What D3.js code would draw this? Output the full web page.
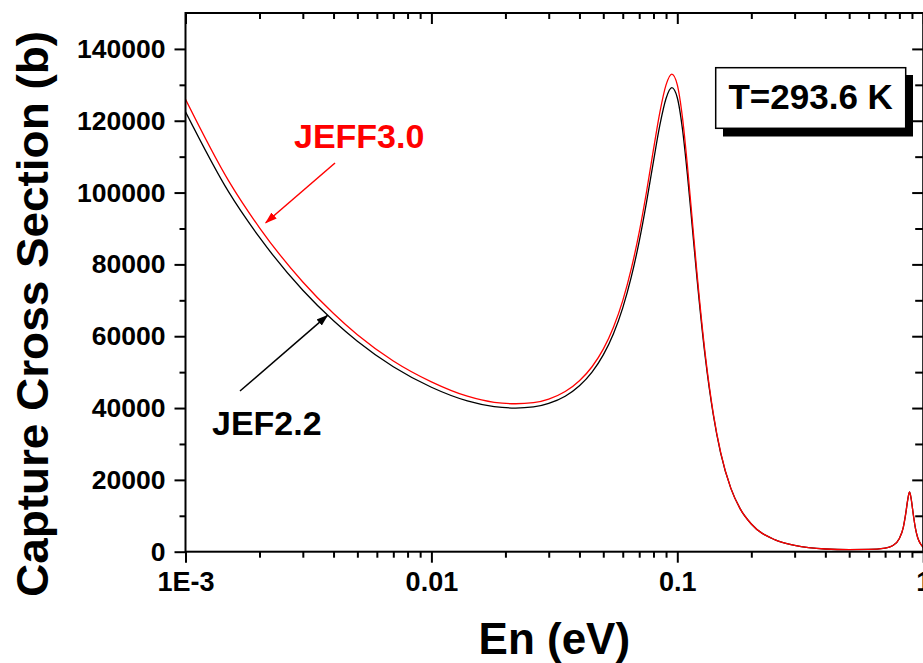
<!DOCTYPE html>
<html>
<head>
<meta charset="utf-8">
<script src="https://cdn.jsdelivr.net/npm/d3@7"></script>
<style>
  html, body { margin: 0; padding: 0; background: #fff; }
  svg { display: block; }
  text { font-family: "Liberation Sans", Arial, sans-serif; font-weight: bold; }
</style>
</head>
<body>
<svg id="chart" width="923" height="663"></svg>
<script>
// Neutron energies (eV) at which the capture cross sections are tabulated
const energies = [
  0.001, 0.0015, 0.002, 0.003, 0.004, 0.005, 0.007, 0.01, 0.014, 0.018,
  0.022, 0.026, 0.03, 0.035, 0.04, 0.045, 0.05, 0.055, 0.06, 0.065,
  0.07, 0.075, 0.08, 0.085, 0.09, 0.095, 0.1, 0.105, 0.11, 0.115,
  0.12, 0.13, 0.14, 0.15, 0.165, 0.18, 0.2, 0.25, 0.3, 0.4,
  0.5, 0.6, 0.7, 0.75, 0.8, 0.83, 0.85, 0.865, 0.88, 0.895,
  0.91, 0.93, 0.95, 0.975, 1.0
];

// JEF2.2 capture cross section (barns)
const jef22 = [
  122500, 100100, 87500, 72800, 64300, 58600, 51500, 45800, 42000, 40400,
  40000, 40300, 41300, 43300, 46200, 50000, 54800, 60700, 67900, 76500,
  86400, 97400, 108700, 118900, 126200, 129200, 126400, 117600, 104800, 90600,
  76800, 54000, 38200, 27500, 17700, 12000, 7700, 3300, 1750, 750,
  600, 620, 980, 1650, 3700, 6800, 10800, 14450, 16650, 14400,
  10700, 6500, 3900, 2200, 1200
];

// JEFF3.0 capture cross section (barns)
const jeff30 = [
  126000, 103200, 90200, 75100, 66300, 60400, 53100, 47300, 43300, 41600,
  41200, 41500, 42500, 44600, 47600, 51500, 56400, 62500, 69900, 78800,
  89000, 100300, 112000, 122500, 130000, 133000, 130000, 120800, 107300, 92500,
  78200, 54800, 38600, 27700, 17700, 12000, 7700, 3300, 1750, 750,
  600, 620, 980, 1650, 3700, 6800, 10800, 14450, 16650, 14400,
  10700, 6500, 3900, 2200, 1200
];

// Axis ticks
const xMajor = [0.001, 0.01, 0.1, 1];
const xMajorLabels = ["1E-3", "0.01", "0.1", "1"];
const yMajor = [0, 20000, 40000, 60000, 80000, 100000, 120000, 140000];
const yMinor = [10000, 30000, 50000, 70000, 90000, 110000, 130000];

const svg = d3.select("#chart");

const x = d3.scaleLog().domain([0.001, 1]).range([185.5, 923.2]);
const y = d3.scaleLinear().domain([0, 150000]).range([551.7, 13]);

const [x0, x1] = x.range();
const [yB, yT] = y.range();

// minor decade ticks 2..9 for each decade
const xMinor = [];
xMajor.slice(0, -1).forEach(d => { for (let k = 2; k <= 9; k++) xMinor.push(d * k); });

// clip for the curves
svg.append("defs").append("clipPath").attr("id", "plotClip")
  .append("rect").attr("x", x0).attr("y", yT).attr("width", x1 - x0).attr("height", yB - yT);

// arrow markers
const defs = svg.select("defs");
[["arrowRed", "#ff0000"], ["arrowBlack", "#000"]].forEach(([id, c]) => {
  defs.append("marker").attr("id", id)
    .attr("viewBox", "0 0 12 10").attr("refX", 11).attr("refY", 5)
    .attr("markerWidth", 12).attr("markerHeight", 10)
    .attr("markerUnits", "userSpaceOnUse").attr("orient", "auto")
    .append("path").attr("d", "M0,1 L12,5 L0,9 Z").attr("fill", c);
});

// curves
const line = d3.line().x(d => x(d[0])).y(d => y(d[1])).curve(d3.curveMonotoneX);
const curves = svg.append("g").attr("clip-path", "url(#plotClip)");
curves.append("path").datum(energies.map((e, i) => [e, jef22[i]]))
  .attr("d", line).attr("fill", "none").attr("stroke", "#000").attr("stroke-width", 1.3);
curves.append("path").datum(energies.map((e, i) => [e, jeff30[i]]))
  .attr("d", line).attr("fill", "none").attr("stroke", "#ff0000").attr("stroke-width", 1.3);

// axes
function styleAxis(g) {
  g.select(".domain").remove();
  g.selectAll(".tick line").attr("stroke", "#000").attr("stroke-width", 2);
  g.selectAll(".tick text").attr("fill", "#000");
}

// bottom
svg.append("g").attr("transform", `translate(0,${yB})`)
  .call(d3.axisBottom(x).tickValues(xMinor).tickSize(6).tickFormat(""))
  .call(styleAxis);
const xb = svg.append("g").attr("transform", `translate(0,${yB})`)
  .call(d3.axisBottom(x).tickValues(xMajor).tickSize(11).tickPadding(9)
    .tickFormat((d, i) => xMajorLabels[i]))
  .call(styleAxis);
xb.selectAll(".tick text").attr("font-size", 27).attr("font-family", "Liberation Sans, Arial, sans-serif")
  .attr("font-weight", "bold");

// top (ticks inward)
svg.append("g").attr("transform", `translate(0,${yT})`)
  .call(d3.axisBottom(x).tickValues(xMinor).tickSize(6).tickFormat(""))
  .call(styleAxis);
svg.append("g").attr("transform", `translate(0,${yT})`)
  .call(d3.axisBottom(x).tickValues(xMajor).tickSize(11).tickFormat(""))
  .call(styleAxis);

// left
svg.append("g").attr("transform", `translate(${x0},0)`)
  .call(d3.axisLeft(y).tickValues(yMinor).tickSize(6).tickFormat(""))
  .call(styleAxis);
const yl = svg.append("g").attr("transform", `translate(${x0},0)`)
  .call(d3.axisLeft(y).tickValues(yMajor).tickSize(11).tickPadding(9).tickFormat(d3.format("d")))
  .call(styleAxis);
yl.selectAll(".tick text").attr("font-size", 26.5).attr("font-family", "Liberation Sans, Arial, sans-serif")
  .attr("font-weight", "bold");

// right (ticks inward)
svg.append("g").attr("transform", `translate(${x1},0)`)
  .call(d3.axisLeft(y).tickValues(yMinor).tickSize(8).tickFormat(""))
  .call(styleAxis);
svg.append("g").attr("transform", `translate(${x1},0)`)
  .call(d3.axisLeft(y).tickValues(yMajor).tickSize(11).tickFormat(""))
  .call(styleAxis);

// frame
svg.append("rect").attr("x", x0).attr("y", yT).attr("width", x1 - x0).attr("height", yB - yT)
  .attr("fill", "none").attr("stroke", "#000").attr("stroke-width", 2);

// axis titles
svg.append("text").attr("x", (x0 + x1) / 2).attr("y", 654)
  .attr("text-anchor", "middle").attr("font-size", 44).text("En (eV)");
svg.append("text").attr("transform", "translate(48,314) rotate(-90)")
  .attr("text-anchor", "middle").attr("font-size", 45)
  .attr("textLength", 566).attr("lengthAdjust", "spacingAndGlyphs")
  .text("Capture Cross Section (b)");

// series labels with arrows
svg.append("text").attr("x", 294).attr("y", 148).attr("font-size", 34)
  .attr("fill", "#ff0000").text("JEFF3.0");
svg.append("line").attr("x1", 335).attr("y1", 163).attr("x2", x(0.00212)).attr("y2", y(91600))
  .attr("stroke", "#ff0000").attr("stroke-width", 1.5).attr("marker-end", "url(#arrowRed)");

svg.append("text").attr("x", 212).attr("y", 435).attr("font-size", 34)
  .attr("fill", "#000").text("JEF2.2");
svg.append("line").attr("x1", 240).attr("y1", 391).attr("x2", x(0.00378)).attr("y2", y(65800))
  .attr("stroke", "#000").attr("stroke-width", 1.5).attr("marker-end", "url(#arrowBlack)");

// temperature box with drop shadow
svg.append("rect").attr("x", 723).attr("y", 75).attr("width", 190).attr("height", 61.5).attr("fill", "#000");
svg.append("rect").attr("x", 715.7).attr("y", 67.7).attr("width", 190).attr("height", 60.6)
  .attr("fill", "#fff").attr("stroke", "#000").attr("stroke-width", 1.5);
svg.append("text").attr("x", 810.7).attr("y", 108.5).attr("text-anchor", "middle")
  .attr("font-size", 35).text("T=293.6 K");
</script>
</body>
</html>
